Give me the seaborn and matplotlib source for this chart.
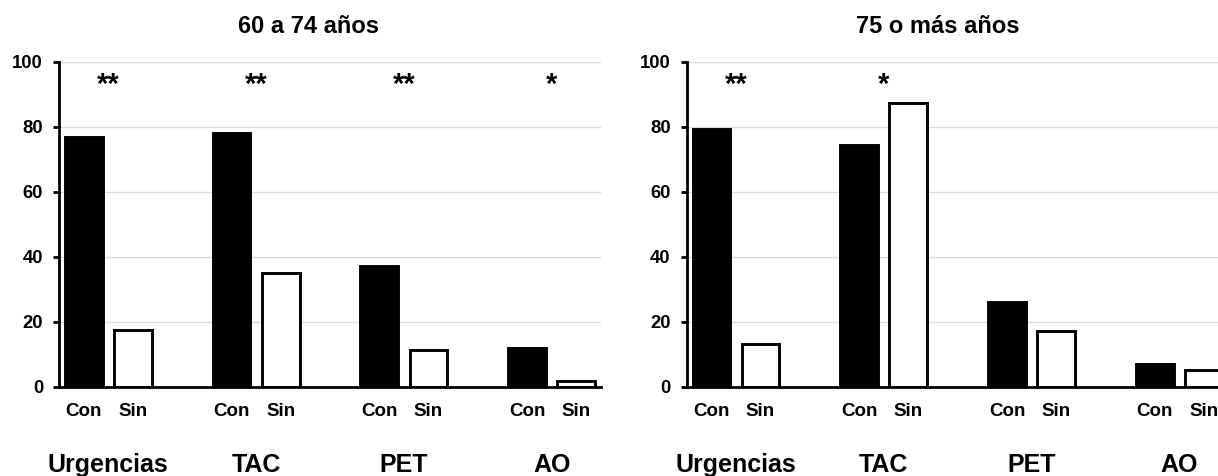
import matplotlib
matplotlib.use("Agg")
import matplotlib.pyplot as plt
import seaborn as sns
import pandas as pd
import numpy as np

# ---- data ----
pruebas = ["Urgencias", "TAC", "PET", "AO"]
grupos = ["Con", "Sin"]
titulos = ["60 a 74 años", "75 o más años"]

con_60_74 = [77.0, 78.0, 37.0, 11.8]
sin_60_74 = [17.5, 35.0, 11.1, 1.6]
con_75 = [79.2, 74.5, 26.1, 6.8]
sin_75 = [13.0, 87.3, 17.1, 5.0]

sig_60_74 = ["**", "**", "**", "*"]
sig_75 = ["**", "*", "", ""]

yticks = [0, 20, 40, 60, 80, 100]

sns.set_theme(style="white")
plt.rcParams["font.family"] = ["Liberation Sans", "DejaVu Sans"]
plt.rcParams["font.weight"] = "bold"

def make_df(con, sin):
    rows = []
    for p, c, s in zip(pruebas, con, sin):
        rows.append({"Prueba": p, "Grupo": "Con", "Valor": c})
        rows.append({"Prueba": p, "Grupo": "Sin", "Valor": s})
    return pd.DataFrame(rows)

datasets = [
    (make_df(con_60_74, sin_60_74), sig_60_74),
    (make_df(con_75, sin_75), sig_75),
]

fig = plt.figure(figsize=(12.18, 4.76), dpi=100)
rects = [
    [59 / 1218, 89.5 / 476, 542 / 1218, 324.5 / 476],
    [686.7 / 1218, 89.5 / 476, 542 / 1218, 324.5 / 476],
]
title_x = [309 / 1218, 938 / 1218]

for k, ((df, sig), rect) in enumerate(zip(datasets, rects)):
    ax = fig.add_axes(rect)
    sns.barplot(
        data=df, x="Prueba", y="Valor", hue="Grupo",
        order=pruebas, hue_order=grupos,
        palette={"Con": "black", "Sin": "white"},
        edgecolor="black", linewidth=2.1,
        width=0.664, gap=0.23, legend=False, ax=ax, zorder=3,
    )
    ax.set_xlim(-1 / 3, len(pruebas) - 1 + 1 / 3)
    ax.set_ylim(0, 100)
    ax.set_yticks(yticks)
    ax.set_yticklabels([str(t) for t in yticks], fontsize=13.3, fontweight="bold")
    ax.yaxis.grid(True, color="#dcdcdc", linewidth=1.0, zorder=0)
    ax.set_axisbelow(True)
    for s in ["top", "right"]:
        ax.spines[s].set_visible(False)
    for s in ["left", "bottom"]:
        ax.spines[s].set_color("black")
        ax.spines[s].set_linewidth(2.0)
        ax.spines[s].set_zorder(4)

    # bar centers for Con / Sin labels
    centers = sorted(p.get_x() + p.get_width() / 2 for p in ax.patches)
    labels = []
    for _ in pruebas:
        labels += grupos
    ax.set_xticks(centers)
    ax.set_xticklabels(labels, fontsize=13.5, fontweight="bold")
    ax.set_xticks(range(len(pruebas)), minor=True)
    ax.set_xticklabels(pruebas, minor=True, fontsize=18, fontweight="bold")
    ax.tick_params(axis="x", which="major", length=0, pad=12, colors="black")
    ax.tick_params(axis="x", which="minor", length=0, pad=48, colors="black")
    ax.tick_params(axis="y", which="major", left=True, length=4.5, width=2.0,
                   pad=7, colors="black")
    ax.set_xlabel("")
    ax.set_ylabel("")

    for i, s in enumerate(sig):
        if s:
            ax.text(i, 93.0, s, ha="center", va="center", fontsize=21,
                    fontweight="bold", color="black")

    fig.text(title_x[k], (476 - 33) / 476, titulos[k], ha="center",
             va="baseline", fontsize=17, fontweight="bold", color="black")

fig.savefig("out.png", dpi=100)
